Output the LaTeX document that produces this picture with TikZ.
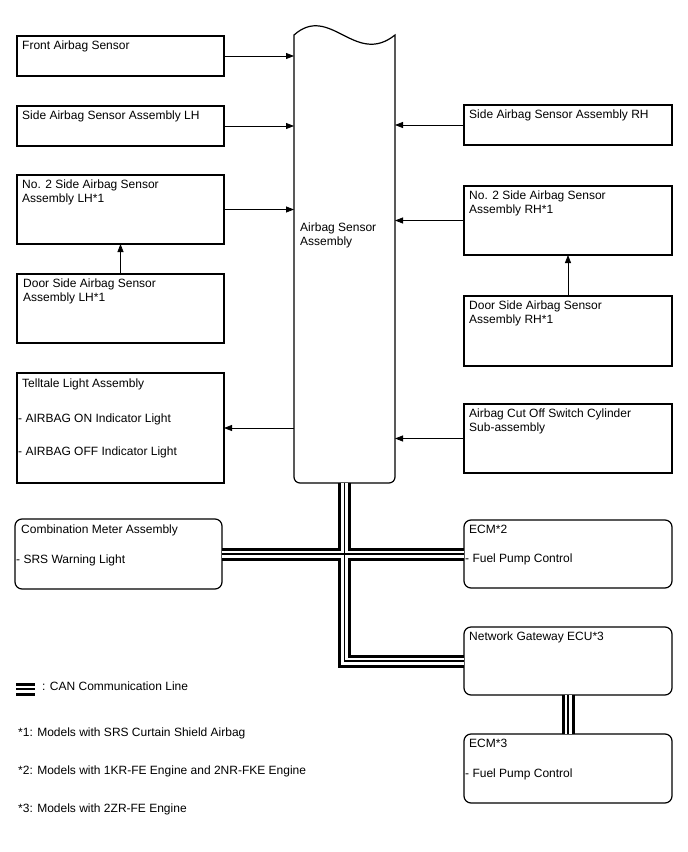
\documentclass[tikz,border=0pt]{standalone}
\usepackage{fontspec}
\setmainfont{Liberation Sans}
\usetikzlibrary{arrows.meta}
\begin{document}
\begin{tikzpicture}[x=1pt,y=1pt,
 box/.style={draw, line width=1.2pt, anchor=north west, inner sep=0pt, outer sep=0pt},
 rbox/.style={box, rounded corners=7pt},
 txt/.style={anchor=base west, inner sep=0pt, font=\fontsize{12}{14}\selectfont},
 arr/.style={line width=0.8pt, -{Triangle[length=8pt,width=6pt]}},
 canA/.style={line width=13pt, line join=miter, black},
 canB/.style={line width=7pt, line join=miter, white},
 canC/.style={line width=1.6pt, line join=miter, black},
]
\useasboundingbox (0,0) rectangle (688,-852);
% central box
\node[anchor=north west, inner sep=0pt, outer sep=0pt, minimum width=101pt, minimum height=448pt] (cen) at (294,-35) {};
\draw[line width=1.2pt] (cen.north west) .. controls +(36,32) and +(-40,-32) .. (cen.north east)
  -- ([yshift=6pt]cen.south east) arc[start angle=0, end angle=-90, radius=6pt]
  -- ([xshift=6pt]cen.south west) arc[start angle=-90, end angle=-180, radius=6pt] -- cycle;
\node[txt] (cen-t1) at (300,-231) {Airbag Sensor};
\node[txt] (cen-t2) at (300,-245) {Assembly};
% left boxes
\node[box, minimum width=207pt, minimum height=40pt] (fas) at (17,-36) {};
\node[box, minimum width=207pt, minimum height=40pt] (slh) at (17,-106) {};
\node[box, minimum width=207pt, minimum height=69pt] (n2lh) at (17,-175) {};
\node[box, minimum width=207pt, minimum height=69pt] (dlh) at (17,-274) {};
\node[box, minimum width=207pt, minimum height=110pt] (tl) at (17,-373) {};
% right boxes
\node[box, minimum width=208pt, minimum height=40pt] (srh) at (464,-105) {};
\node[box, minimum width=208pt, minimum height=69pt] (n2rh) at (464,-186) {};
\node[box, minimum width=208pt, minimum height=70pt] (drh) at (464,-296) {};
\node[box, minimum width=208pt, minimum height=69pt] (aco) at (464,-404) {};
% rounded boxes
\node[rbox, minimum width=207pt, minimum height=70pt] (cm) at (15,-519) {};
\node[rbox, minimum width=208pt, minimum height=68pt] (ecm2) at (464,-520) {};
\node[rbox, minimum width=208pt, minimum height=68pt] (ng) at (464,-627) {};
\node[rbox, minimum width=208pt, minimum height=69pt] (ecm3) at (464,-734) {};
% texts
\node[txt] (fas-t) at ([shift={(5,-13)}]fas.north west) {Front Airbag Sensor};
\node[txt] (slh-t) at ([shift={(5,-13)}]slh.north west) {Side Airbag Sensor Assembly LH};
\node[txt] (n2lh-t1) at ([shift={(5,-13)}]n2lh.north west) {No. 2 Side Airbag Sensor};
\node[txt] (n2lh-t2) at ([shift={(5,-27)}]n2lh.north west) {Assembly LH*1};
\node[txt] (dlh-t1) at ([shift={(6,-13)}]dlh.north west) {Door Side Airbag Sensor};
\node[txt] (dlh-t2) at ([shift={(6,-27)}]dlh.north west) {Assembly LH*1};
\node[txt] (tl-t1) at ([shift={(5,-14)}]tl.north west) {Telltale Light Assembly};
\node[txt] (tl-t2) at ([shift={(1,-49)}]tl.north west) {- AIRBAG ON Indicator Light};
\node[txt] (tl-t3) at ([shift={(1,-82)}]tl.north west) {- AIRBAG OFF Indicator Light};
\node[txt] (srh-t) at ([shift={(5,-13)}]srh.north west) {Side Airbag Sensor Assembly RH};
\node[txt] (n2rh-t1) at ([shift={(5,-13)}]n2rh.north west) {No. 2 Side Airbag Sensor};
\node[txt] (n2rh-t2) at ([shift={(5,-27)}]n2rh.north west) {Assembly RH*1};
\node[txt] (drh-t1) at ([shift={(5,-13)}]drh.north west) {Door Side Airbag Sensor};
\node[txt] (drh-t2) at ([shift={(5,-27)}]drh.north west) {Assembly RH*1};
\node[txt] (aco-t1) at ([shift={(5,-13)}]aco.north west) {Airbag Cut Off Switch Cylinder};
\node[txt] (aco-t2) at ([shift={(5,-27)}]aco.north west) {Sub-assembly};
\node[txt] (cm-t1) at ([shift={(6,-14)}]cm.north west) {Combination Meter Assembly};
\node[txt] (cm-t2) at ([shift={(1,-44)}]cm.north west) {- SRS Warning Light};
\node[txt] (ecm2-t1) at ([shift={(5,-13)}]ecm2.north west) {ECM*2};
\node[txt] (ecm2-t2) at ([shift={(1,-42)}]ecm2.north west) {- Fuel Pump Control};
\node[txt] (ng-t1) at ([shift={(5,-13)}]ng.north west) {Network Gateway ECU*3};
\node[txt] (ecm3-t1) at ([shift={(5,-13)}]ecm3.north west) {ECM*3};
\node[txt] (ecm3-t2) at ([shift={(1,-43)}]ecm3.north west) {- Fuel Pump Control};
% arrows
\draw[arr] (fas.east) -- (fas.east -| cen.west);
\draw[arr] (slh.east) -- (slh.east -| cen.west);
\draw[arr] (n2lh.east) -- (n2lh.east -| cen.west);
\draw[arr] (dlh.north) -- (n2lh.south);
\draw[arr] (tl.east -| cen.west) -- (tl.east);
\draw[arr] (srh.west) -- (srh.west -| cen.east);
\draw[arr] (n2rh.west) -- (n2rh.west -| cen.east);
\draw[arr] (drh.north) -- (n2rh.south);
\draw[arr] (aco.west) -- (aco.west -| cen.east);
% CAN lines
\coordinate (lg1) at (16,-689);
\coordinate (lg2) at (35,-689);
\foreach \s in {canA,canB,canC} {
  \draw[\s] (cen.south) |- (ng.west);
  \draw[\s] (cm.east) -- (ecm2.west);
  \draw[\s] (ng.south) -- (ecm3.north);
  \draw[\s] (lg1) -- (lg2);
}
% legend and notes
\node[txt] (lg-t) at (42,-690) {: CAN Communication Line};
\node[txt] (n1) at (18,-736) {*1: Models with SRS Curtain Shield Airbag};
\node[txt] (n2) at (18,-774) {*2: Models with 1KR-FE Engine and 2NR-FKE Engine};
\node[txt] (n3) at (18,-812) {*3: Models with 2ZR-FE Engine};
\end{tikzpicture}
\end{document}
